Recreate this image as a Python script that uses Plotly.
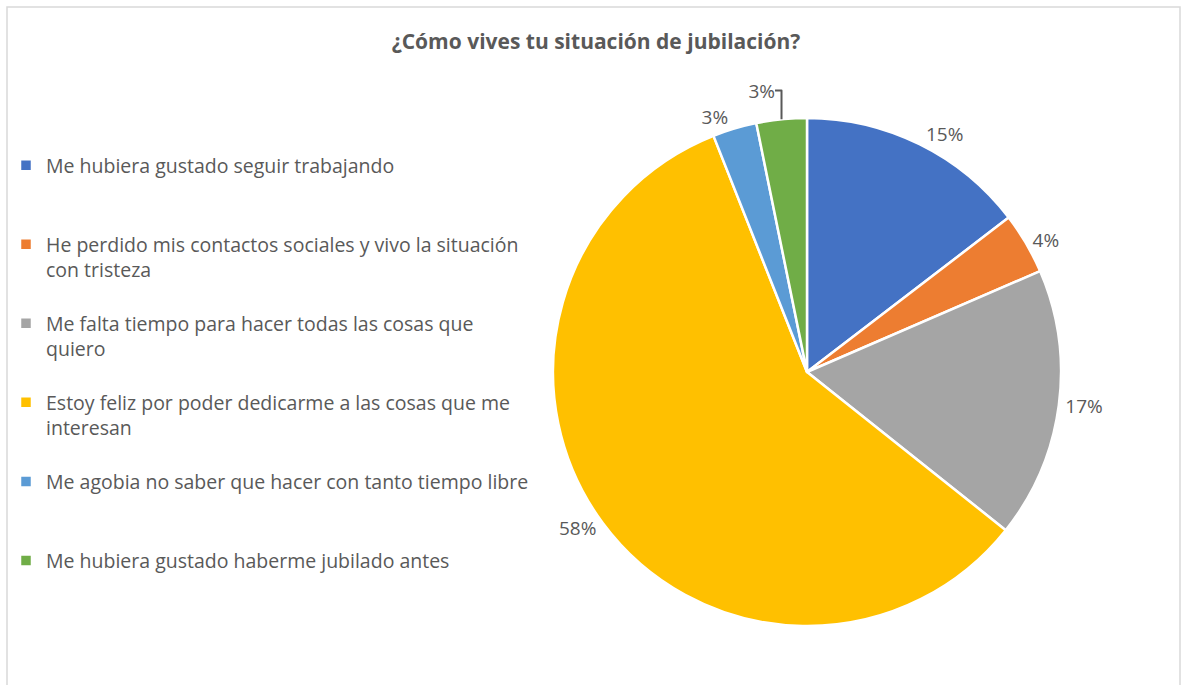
import plotly.graph_objects as go

labels = [
    "Me hubiera gustado seguir trabajando",
    "He perdido mis contactos sociales y vivo la situación<br>con tristeza",
    "Me falta tiempo para hacer todas las cosas que<br>quiero",
    "Estoy feliz por poder dedicarme a las cosas que me<br>interesan",
    "Me agobia no saber que hacer con tanto tiempo libre",
    "Me hubiera gustado haberme jubilado antes",
]
values = [14.6, 3.9, 17.2, 58.3, 2.8, 3.2]
colors = ["#4472C4", "#ED7D31", "#A5A5A5", "#FFC000", "#5B9BD5", "#70AD47"]

W, H = 1186, 685
FONT = "'Open Sans', Lato, sans-serif"

# pad legend entries so every entry spans the same number of lines
padded = []
for lab in labels:
    n = lab.count("<br>") + 1
    padded.append(lab + "<br> " * (3 - n))

fig = go.Figure(go.Pie(
    labels=padded,
    values=values,
    sort=False,
    direction="clockwise",
    rotation=0,
    marker=dict(colors=colors, line=dict(color="white", width=2.5)),
    textinfo="percent",
    texttemplate="%{percent:.0%}",
    textposition="outside",
    textfont=dict(family=FONT, size=19, color="#595959"),
    outsidetextfont=dict(family=FONT, size=19, color="#595959"),
    domain=dict(x=[(807 - 254) / W, (807 + 254) / W], y=[(313 - 254) / H, (313 + 254) / H]),
    showlegend=True,
    hoverinfo="label+percent",
))

fig.update_layout(
    width=W, height=H,
    margin=dict(l=0, r=0, t=0, b=0),
    paper_bgcolor="white",
    plot_bgcolor="white",
    font=dict(family=FONT, color="#595959"),
    title=dict(
        text="<b>¿Cómo vives tu situación de jubilación?</b>",
        x=596 / W, xanchor="center", y=1 - 42 / H, yanchor="middle",
        font=dict(family=FONT, size=21, color="#595959"),
    ),
    legend=dict(
        x=6 / W, xanchor="left", y=1 - 146 / H, yanchor="top",
        valign="top",
        font=dict(family=FONT, size=19.5, color="#595959"),
        bgcolor="rgba(0,0,0,0)",
        itemclick=False,
    ),
    shapes=[dict(
        type="rect", xref="paper", yref="paper",
        x0=7 / W, x1=1180 / W, y0=-0.05, y1=1 - 7 / H,
        line=dict(color="#D9D9D9", width=1.5), fillcolor="rgba(0,0,0,0)",
    )],
)

fig.write_html("out.html", config={"displayModeBar": False},
               post_script="document.body.style.margin='0';")
